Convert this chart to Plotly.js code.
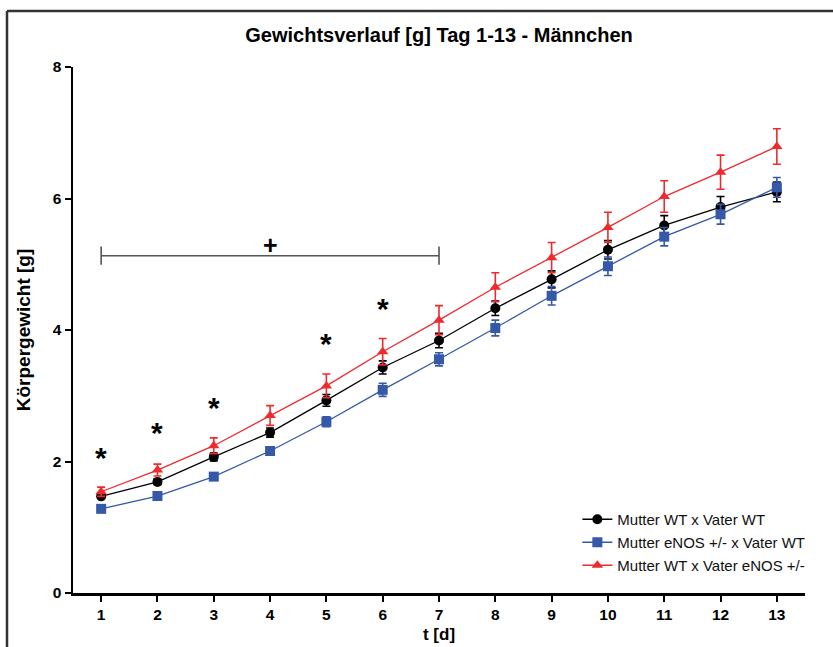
<!DOCTYPE html>
<html>
<head>
<meta charset="utf-8">
<script src="https://cdn.plot.ly/plotly-3.0.1.min.js"></script>
<style>
html,body{margin:0;padding:0;background:#fff;}
#chart{width:833px;height:647px;}
</style>
</head>
<body>
<div id="chart"></div>
<script>
const days = [1,2,3,4,5,6,7,8,9,10,11,12,13];
const tickLabels = ["1","2","3","4","5","6","7","8","9","10","11","12","13"];

const seriesNames = ["Mutter WT x Vater WT", "Mutter eNOS +/- x Vater WT", "Mutter WT x Vater eNOS +/-"];

const wtWt      = [1.47, 1.69, 2.07, 2.44, 2.93, 3.43, 3.84, 4.33, 4.77, 5.22, 5.59, 5.87, 6.10];
const wtWtErr   = [0.03, 0.04, 0.06, 0.07, 0.09, 0.10, 0.11, 0.11, 0.13, 0.14, 0.15, 0.16, 0.15];

const enosWt    = [1.28, 1.475, 1.77, 2.16, 2.605, 3.09, 3.555, 4.03, 4.52, 4.97, 5.42, 5.76, 6.17];
const enosWtErr = [0.02, 0.03, 0.04, 0.05, 0.075, 0.10, 0.10, 0.12, 0.14, 0.14, 0.14, 0.15, 0.15];

const wtEnos    = [1.54, 1.87, 2.24, 2.70, 3.15, 3.67, 4.15, 4.65, 5.10, 5.56, 6.03, 6.40, 6.79];
const wtEnosErr = [0.07, 0.09, 0.12, 0.15, 0.18, 0.20, 0.22, 0.22, 0.23, 0.23, 0.24, 0.26, 0.27];

// significance markers
const starDays = [1, 2, 3, 5, 6];
const starY    = [2.11, 2.48, 2.87, 3.84, 4.37];
const bracketDays = [1, 7];
const bracketY    = [5.13, 5.13];
const plusDay = 4;
const plusY = 5.29;

const colors = ["#000000", "#3558a8", "#ee2a2e"];
const symbols = ["circle", "square", "triangle-up"];
const means = [wtWt, enosWt, wtEnos];
const errs = [wtWtErr, enosWtErr, wtEnosErr];

const FONT = "Arial, 'Liberation Sans', sans-serif";

const traces = means.map((m, i) => ({
  type: "scatter",
  mode: "lines+markers",
  name: seriesNames[i],
  legendgroup: "g" + i,
  x: days,
  y: m,
  line: {color: colors[i], width: 1.3},
  marker: {color: colors[i], symbol: symbols[i], size: 10},
  error_y: {type: "data", array: errs[i], visible: true, color: colors[i], thickness: 1.6, width: 4}
}));

traces.push({
  type: "scatter",
  mode: "lines+markers",
  x: bracketDays,
  y: bracketY,
  showlegend: false,
  hoverinfo: "skip",
  line: {color: "#555555", width: 1.6},
  marker: {symbol: "line-ns-open", size: 13, color: "#555555", line: {color: "#555555", width: 1.6}}
});

const annotations = starDays.map((d, i) => ({
  x: d, y: starY[i], xref: "x", yref: "y",
  text: "<b>*</b>", showarrow: false,
  font: {family: FONT, size: 30, color: "#000"},
  yanchor: "middle", yshift: -3
}));
annotations.push({
  x: plusDay, y: plusY, xref: "x", yref: "y",
  text: "<b>+</b>", showarrow: false,
  font: {family: FONT, size: 25, color: "#000"},
  yanchor: "middle"
});

const layout = {
  width: 833, height: 647,
  margin: {l: 73, r: 28, t: 67, b: 54},
  paper_bgcolor: "#fff", plot_bgcolor: "#fff",
  font: {family: FONT, color: "#000"},
  title: {
    text: "<b>Gewichtsverlauf [g] Tag 1-13 - Männchen</b>",
    font: {family: FONT, size: 20, color: "#000"},
    x: 0.5, xref: "paper", xanchor: "center",
    y: 1 - 35/647, yref: "container", yanchor: "middle"
  },
  xaxis: {
    range: [0.5, 13.5],
    tickmode: "array", tickvals: days, ticktext: tickLabels,
    ticks: "outside", ticklen: 6, tickwidth: 2, tickcolor: "#000",
    showline: true, linecolor: "#000", linewidth: 2.5,
    showgrid: false, zeroline: false,
    tickfont: {family: FONT, size: 15.5, color: "#000", weight: "bold"},
    title: {text: "<b>t [d]</b>", font: {family: FONT, size: 17, color: "#000"}, standoff: 6}
  },
  yaxis: {
    range: [0, 8],
    tickmode: "array", tickvals: [0, 2, 4, 6, 8], ticktext: ["0","2","4","6","8"],
    ticks: "outside", ticklen: 6, tickwidth: 2, tickcolor: "#000",
    showline: true, linecolor: "#000", linewidth: 2.5,
    showgrid: false, zeroline: false,
    tickfont: {family: FONT, size: 15.5, color: "#000", weight: "bold"},
    title: {text: "<b>Körpergewicht [g]</b>", font: {family: FONT, size: 19, color: "#000"}, standoff: 17}
  },
  legend: {
    x: 0.689, y: (593 - 503) / 526, xanchor: "left", yanchor: "top",
    bgcolor: "rgba(0,0,0,0)",
    font: {family: FONT, size: 15, color: "#111"},
    tracegroupgap: 0.5,
    traceorder: "grouped"
  },
  annotations: annotations,
  shapes: [{
    type: "line", xref: "paper", yref: "paper",
    x0: (7 - 73) / 732, x1: (7 - 73) / 732, y0: 1 + 56 / 526, y1: -0.2,
    line: {color: "#333", width: 2.5}
  }, {
    type: "line", xref: "paper", yref: "paper",
    x0: (7 - 73) / 732, x1: 1.05, y0: 1 + 56 / 526, y1: 1 + 56 / 526,
    line: {color: "#333", width: 2.5}
  }],
  showlegend: true
};

Plotly.newPlot("chart", traces, layout, {displayModeBar: false, staticPlot: true});
</script>
</body>
</html>
